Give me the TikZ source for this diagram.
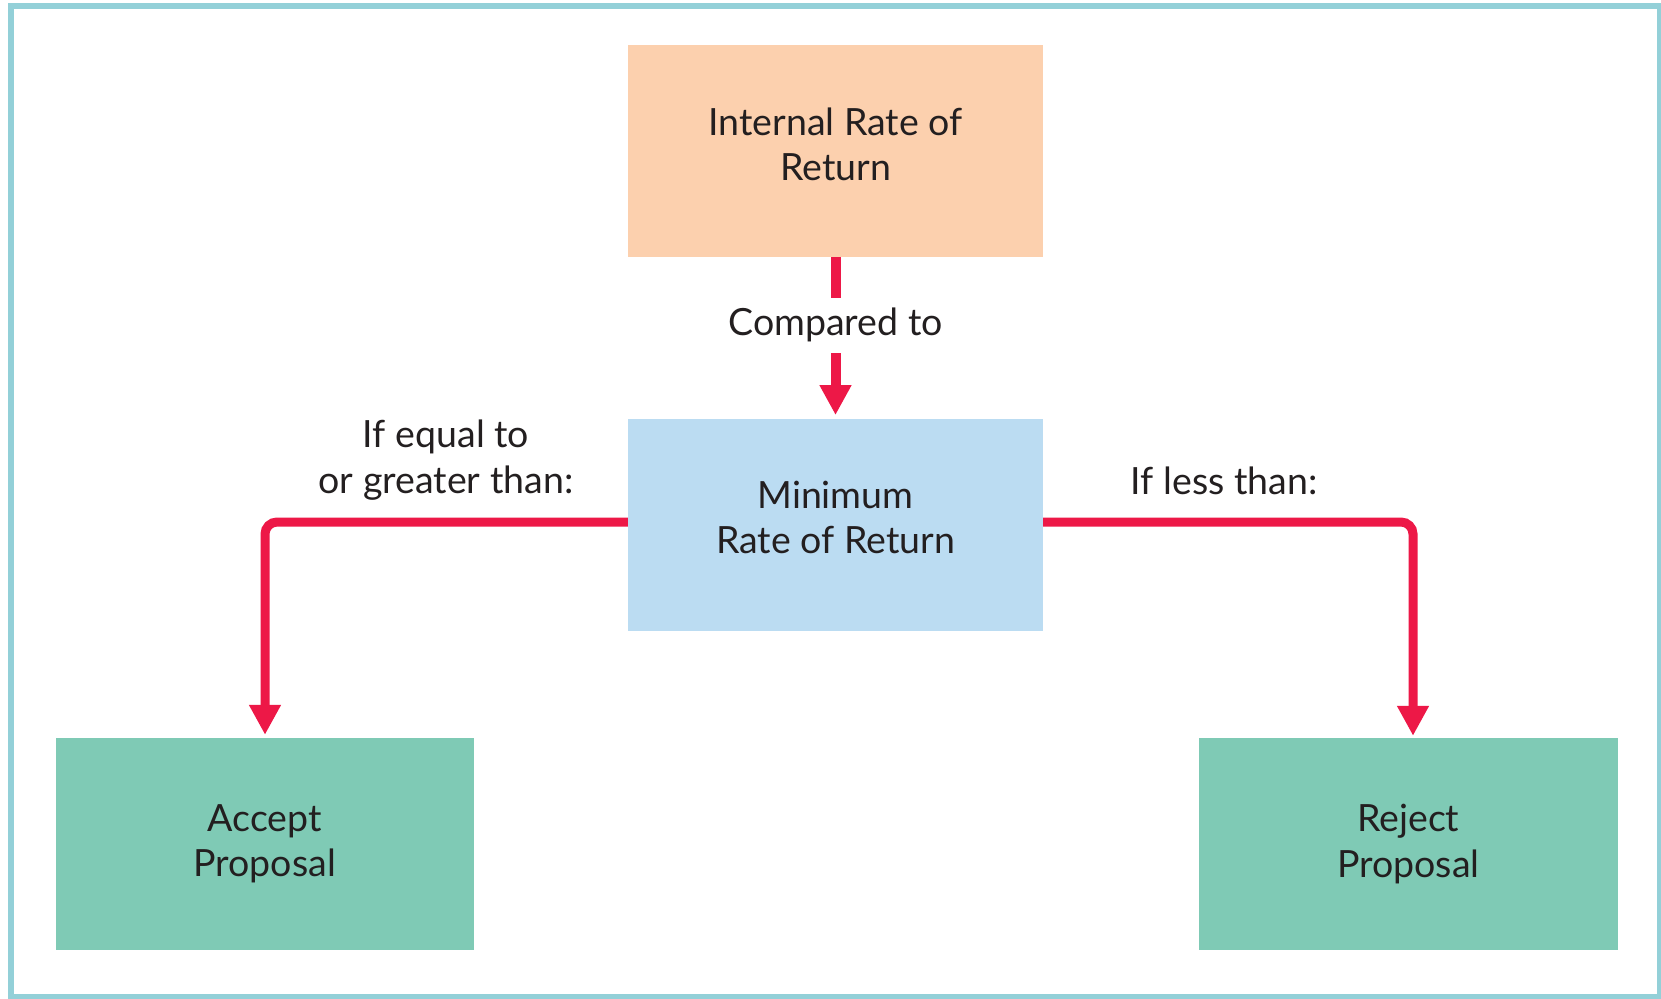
\documentclass[tikz,border=0pt]{standalone}
\usepackage{fontspec}
\setmainfont{Lato}
\usetikzlibrary{arrows.meta}
\definecolor{framecol}{HTML}{93D0D8}
\definecolor{peach}{HTML}{FCD0AE}
\definecolor{lblue}{HTML}{BBDCF2}
\definecolor{lgreen}{HTML}{7FCAB5}
\definecolor{arrowred}{HTML}{ED1847}
\definecolor{txt}{HTML}{231F20}
\tikzset{
  box/.style={draw=none, inner sep=0pt, align=center, text=txt},
  lbl/.style={inner sep=0pt, align=center, text=txt},
  conn/.style={draw=arrowred, line width=9pt, -{Triangle[width=30pt,length=30pt]}},
}
\begin{document}
\begin{tikzpicture}[x=1pt, y=-1pt, font=\fontsize{37.5}{45.5}\selectfont]
\clip (0,0) rectangle (1661,998);
\fill[white] (0,0) rectangle (1661,998);
\draw[framecol, line width=6pt] (11,6) rectangle (1660,997);

\node[box, fill=peach, minimum width=415pt, minimum height=211.5pt,
  label={[lbl, yshift=6.5pt]center:Internal Rate of\\Return}] (irr) at (835.5,151) {};
\node[box, fill=lblue, minimum width=415pt, minimum height=211.5pt,
  label={[lbl, yshift=7.5pt]center:Minimum\\Rate of Return}] (mrr) at (835.5,525) {};
\node[box, fill=lgreen, minimum width=417.5pt, minimum height=212pt] (acc) at (264.75,844) {Accept\\Proposal};
\node[box, fill=lgreen, minimum width=418.5pt, minimum height=212pt] (rej) at (1408.25,844) {Reject\\Proposal};

\coordinate (lc) at (265,522);
\coordinate (rc) at (1413,522);

\draw[conn, line width=10pt, shorten >=4pt] (irr.south) -- node[pos=0.42, lbl, fill=white, minimum height=55pt, inner xsep=0pt] (cmp) {Compared to} (mrr.north);

\draw[conn, rounded corners=12pt, shorten >=3pt] (mrr.west |- lc) -- (lc) -- (acc.north -| lc);
\draw[conn, rounded corners=12pt, shorten >=2pt] (mrr.east |- rc) -- (rc) -- (rej.north -| rc);

\node[lbl] (ge) at (446,460) {If equal to\\or greater than:};
\node[lbl] (lt) at (1224,481) {If less than:};
\end{tikzpicture}
\end{document}
